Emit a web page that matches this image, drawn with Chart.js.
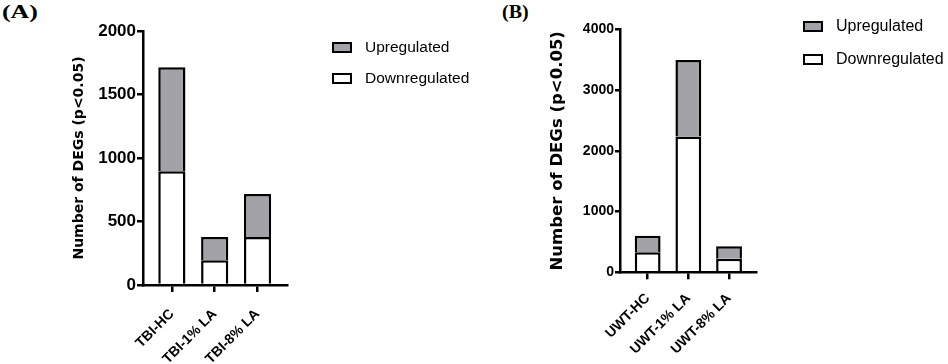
<!DOCTYPE html>
<html lang="en">
<head>
  <meta charset="UTF-8" />
  <title>DEGs</title>
  <script src="https://cdn.jsdelivr.net/npm/chart.js"></script>
  <style>
    body { margin: 0; background: #fff; }
    #wrap { position: relative; width: 948px; height: 364px; overflow: hidden; font-family: "Liberation Sans", Arial, sans-serif; }
    canvas { position: absolute; top: 0; }
    .panel { position: absolute; top: 1px; font-family: "Liberation Serif", "Times New Roman", serif; font-weight: bold; font-size: 19px; transform-origin: left top; }
    .leg { position: absolute; display: flex; align-items: center; color: #000; }
    .box { box-sizing: border-box; width: 20px; height: 11px; border: 2px solid #000; margin-right: 13px; }
  </style>
</head>
<body>
<div id="wrap">
  <div class="panel" style="left:2px; transform: scaleX(1.36);">(A)</div>
  <div class="panel" style="left:502px; transform: scaleX(1.05);">(B)</div>
  <canvas id="chartA" width="474" height="364" style="left:0"></canvas>
  <canvas id="chartB" width="474" height="364" style="left:474px"></canvas>

  <div class="leg" style="left:332px; top:38px; font-size:15.5px;"><span class="box" style="background:#a3a2a8"></span>Upregulated</div>
  <div class="leg" style="left:332px; top:69px; font-size:15.5px;"><span class="box" style="background:#fff"></span>Downregulated</div>
  <div class="leg" style="left:803px; top:17px; font-size:16px;"><span class="box" style="background:#a3a2a8"></span>Upregulated</div>
  <div class="leg" style="left:803px; top:50px; font-size:16px;"><span class="box" style="background:#fff"></span>Downregulated</div>
</div>

<script>
  // panel A
  const categoriesA = ["TBI-HC", "TBI-1% LA", "TBI-8% LA"];
  const downA = [895, 195, 378];
  const upA = [820, 183, 338];

  // panel B
  const categoriesB = ["UWT-HC", "UWT-1% LA", "UWT-8% LA"];
  const downB = [330, 2235, 222];
  const upB = [272, 1258, 206];

  const grayFill = "#a3a2a8";

  function makeChart(id, cats, down, up, o) {
    const pts = arr => arr.map((v, i) => ({ x: i, y: v }));
    return new Chart(document.getElementById(id), {
      type: "bar",
      data: {
        datasets: [
          { label: "Downregulated", data: pts(down), backgroundColor: "#fff", borderColor: "#000", borderWidth: 2.5 },
          { label: "Upregulated", data: pts(up), backgroundColor: grayFill, borderColor: "#000", borderWidth: 2.5 }
        ]
      },
      options: {
        responsive: false,
        animation: false,
        datasets: { bar: { barPercentage: 0.635, categoryPercentage: 1 } },
        layout: { padding: o.padding },
        plugins: { legend: { display: false }, tooltip: { enabled: false } },
        scales: {
          x: {
            type: "linear",
            stacked: true,
            offset: false,
            min: o.xmin,
            max: o.xmax,
            afterBuildTicks: s => { s.ticks = cats.map((c, i) => ({ value: i })); },
            afterFit: s => { s.height = o.xH; },
            border: { color: "#000", width: 2.5 },
            grid: { offset: false, drawOnChartArea: false, color: "#000", lineWidth: 2.5, tickLength: 7 },
            ticks: {
              callback: v => cats[v],
              minRotation: 45, maxRotation: 45, padding: o.xPad,
              color: "#000",
              font: { family: "Liberation Sans", weight: "bold", size: 14 }
            }
          },
          y: {
            stacked: true,
            min: 0,
            max: o.ymax,
            afterFit: s => { s.width = o.yWidth; },
            border: { color: "#000", width: 2.5 },
            grid: { drawOnChartArea: false, color: "#000", lineWidth: 2.5, tickLength: o.tickLen },
            ticks: {
              stepSize: o.step, padding: 1, color: "#000",
              callback: v => String(v),
              font: { family: "Liberation Sans", weight: "bold", size: o.tickSize }
            },
            title: {
              display: true,
              text: "Number of DEGs (p<0.05)",
              color: "#000",
              padding: 0,
              font: { family: "DejaVu Sans", weight: "bold", size: o.titleSize, lineHeight: 1 }
            }
          }
        }
      }
    });
  }

  makeChart("chartA", categoriesA, downA, upA, {
    padding: { left: 72, right: 187, top: 31, bottom: 0 },
    yWidth: 71, xmin: -0.674, xmax: 2.688, ymax: 2000, step: 500, xH: 79,
    tickSize: 17, tickLen: 6, titleSize: 14, xPad: 14
  });

  makeChart("chartB", categoriesB, downB, upB, {
    padding: { left: 75.5, right: 191.3, top: 29.3, bottom: 0 },
    yWidth: 70.5, xmin: -0.68, xmax: 2.68, ymax: 4000, step: 1000, xH: 91.7,
    tickSize: 14, tickLen: 5, titleSize: 16.5, xPad: 11
  });
</script>
</body>
</html>
